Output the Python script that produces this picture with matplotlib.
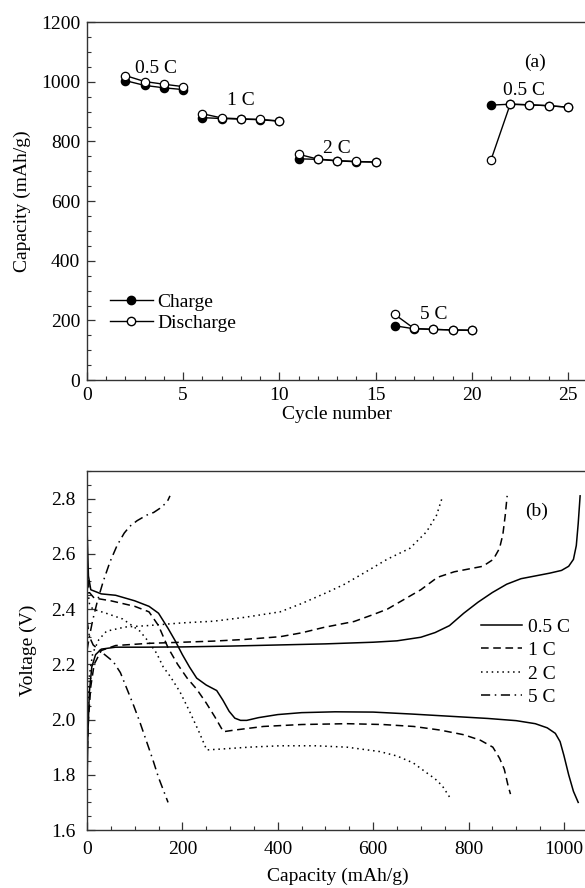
import matplotlib
matplotlib.use("Agg")
import matplotlib.pyplot as plt
from matplotlib.lines import Line2D

plt.rcParams["font.family"] = ["Liberation Serif", "DejaVu Serif"]
plt.rcParams["font.size"] = 14

# ---- panel (a): rate capability ----
cycle_groups = [[2, 3, 4, 5], [6, 7, 8, 9, 10], [11, 12, 13, 14, 15],
                [16, 17, 18, 19, 20], [21, 22, 23, 24, 25]]
charge_groups = [[1004, 988, 980, 974], [880, 877, 875, 873, 868],
                 [742, 740, 735, 732, 731], [182, 172, 170, 168, 167],
                 [922, 925, 923, 920, 915]]
discharge_groups = [[1021, 1001, 992, 984], [893, 879, 876, 874, 869],
                    [757, 741, 736, 733, 731], [220, 173, 170, 168, 167],
                    [738, 925, 923, 920, 915]]
rate_labels_a = ["0.5 C", "1 C", "2 C", "5 C", "0.5 C"]
rate_label_pos_a = [(3.6, 1046), (8.0, 938), (13.0, 778), (18.0, 220), (22.7, 970)]

# ---- panel (b): voltage profiles ----
rates_b = ["0.5 C", "1 C", "2 C", "5 C"]
styles_b = ["-", (0, (5, 3)), (0, (1, 2.5)), (0, (6, 3, 1, 3))]

dis_cap = [
    [0, 3, 8, 30, 60, 100, 130, 150, 170, 185, 200, 215, 230, 250, 272, 285, 298, 310, 322,
     335, 360, 400, 450, 520, 600, 680, 760, 840, 900, 940, 965, 982, 992, 1000, 1010, 1020, 1030],
    [0, 5, 15, 50, 100, 130, 150, 170, 190, 210, 230, 250, 268, 286, 310, 370, 450, 545, 620,
     685, 740, 790, 825, 851, 865, 875, 883, 888],
    [0, 5, 12, 40, 75, 111, 130, 146, 160, 175, 195, 215, 235, 251, 280, 340, 405, 480, 545,
     614, 650, 684, 710, 730, 745, 760],
    [0, 5, 13, 30, 55, 70, 84, 98, 111, 125, 138, 150, 160, 170],
]
dis_volt = [
    [2.70, 2.52, 2.47, 2.455, 2.45, 2.43, 2.41, 2.385, 2.33, 2.285, 2.235, 2.19, 2.15, 2.125,
     2.105, 2.07, 2.03, 2.005, 1.997, 1.997, 2.007, 2.018, 2.025, 2.028, 2.027, 2.02, 2.012,
     2.004, 1.996, 1.985, 1.97, 1.95, 1.92, 1.87, 1.80, 1.74, 1.70],
    [2.55, 2.46, 2.44, 2.43, 2.41, 2.39, 2.34, 2.26, 2.20, 2.15, 2.11, 2.06, 2.01, 1.956, 1.962,
     1.975, 1.982, 1.985, 1.982, 1.975, 1.962, 1.945, 1.925, 1.90, 1.86, 1.82, 1.76, 1.73],
    [2.50, 2.42, 2.40, 2.385, 2.364, 2.32, 2.28, 2.24, 2.19, 2.155, 2.10, 2.03, 1.955, 1.89,
     1.893, 1.90, 1.905, 1.905, 1.90, 1.884, 1.868, 1.843, 1.81, 1.785, 1.76, 1.72],
    [2.36, 2.30, 2.27, 2.245, 2.21, 2.17, 2.11, 2.05, 1.99, 1.92, 1.855, 1.79, 1.745, 1.70],
]
chg_cap = [
    [0, 2, 5, 10, 18, 30, 60, 120, 200, 300, 400, 500, 600, 650, 700, 730, 760, 790, 820, 850,
     880, 910, 940, 970, 995, 1010, 1020, 1026, 1030, 1034],
    [0, 3, 8, 15, 30, 60, 130, 200, 265, 330, 405, 450, 495, 530, 560, 600, 630, 665, 700, 735,
     770, 800, 830, 852, 865, 872, 877, 881],
    [0, 5, 12, 25, 41, 80, 126, 200, 265, 330, 405, 450, 503, 540, 580, 629, 677, 712, 733, 746],
    [0, 5, 12, 22, 34, 48, 63, 78, 90, 105, 125, 140, 153, 163, 170, 174],
]
chg_volt = [
    [1.75, 1.95, 2.10, 2.19, 2.235, 2.255, 2.262, 2.262, 2.263, 2.266, 2.27, 2.274, 2.28, 2.285,
     2.298, 2.315, 2.34, 2.385, 2.425, 2.46, 2.49, 2.51, 2.52, 2.53, 2.54, 2.555, 2.58, 2.63,
     2.71, 2.81],
    [1.85, 2.0, 2.12, 2.20, 2.25, 2.268, 2.276, 2.28, 2.284, 2.29, 2.30, 2.314, 2.333, 2.345,
     2.355, 2.38, 2.40, 2.435, 2.47, 2.515, 2.535, 2.545, 2.555, 2.58, 2.62, 2.67, 2.74, 2.81],
    [2.0, 2.16, 2.24, 2.29, 2.32, 2.335, 2.34, 2.35, 2.356, 2.37, 2.39, 2.42, 2.46, 2.49, 2.53,
     2.58, 2.62, 2.68, 2.74, 2.81],
    [2.25, 2.30, 2.36, 2.43, 2.50, 2.57, 2.63, 2.675, 2.70, 2.72, 2.74, 2.75, 2.765, 2.78,
     2.795, 2.81],
]

spine_color = "#333333"


def style_axes(ax, pad=6):
    for side in ["left", "bottom", "top", "right"]:
        ax.spines[side].set_color(spine_color)
        ax.spines[side].set_linewidth(1.0)
    ax.tick_params(which="both", direction="in", top=False, right=False, color=spine_color)
    ax.tick_params(which="major", length=6, width=0.9, pad=pad)
    ax.tick_params(which="minor", length=3, width=0.8)


fig = plt.figure(figsize=(5.85, 8.88), dpi=100)

# panel (a)
ax1 = fig.add_axes([0.1487, 0.572, 0.855, 0.403])
for cyc, chg in zip(cycle_groups, charge_groups):
    ax1.plot(cyc, chg, color="black", lw=1.0, marker="o", ms=6, mfc="black", mec="black", mew=0.9)
for cyc, dis in zip(cycle_groups, discharge_groups):
    ax1.plot(cyc, dis, color="black", lw=1.0, marker="o", ms=6, mfc="white", mec="black", mew=0.9)
for lab, (tx, ty) in zip(rate_labels_a, rate_label_pos_a):
    ax1.text(tx, ty, lab, ha="center", va="center", fontsize=14)
ax1.text(23.3, 1067, "(a)", ha="center", va="center", fontsize=14)
ax1.set_xlim(0, 26)
ax1.set_ylim(0, 1200)
ax1.set_xticks([0, 5, 10, 15, 20, 25])
ax1.set_xticks(range(0, 26), minor=True)
ax1.set_yticks(range(0, 1201, 200))
ax1.set_yticks(range(0, 1201, 50), minor=True)
ax1.set_xlabel("Cycle number", va="center")
ax1.xaxis.set_label_coords(0.5, -0.095)
ax1.set_ylabel("Capacity (mAh/g)", va="center")
ax1.yaxis.set_label_coords(-0.13, 0.5)
style_axes(ax1, pad=5)
h_a = [Line2D([], [], color="black", lw=1.0, marker="o", ms=6, mfc="black", mec="black"),
       Line2D([], [], color="black", lw=1.0, marker="o", ms=6, mfc="white", mec="black")]
ax1.legend(h_a, ["Charge", "Discharge"], loc="upper left", bbox_to_anchor=(0.03, 0.265),
           frameon=False, handlelength=2.2, handletextpad=0.25, labelspacing=0.2,
           borderaxespad=0, fontsize=14)

# panel (b)
ax2 = fig.add_axes([0.1487, 0.0653, 0.856, 0.4043])
handles_b = []
for i, rate in enumerate(rates_b):
    ln, = ax2.plot(dis_cap[i], dis_volt[i], color="black", lw=1.1, ls=styles_b[i])
    ax2.plot(chg_cap[i], chg_volt[i], color="black", lw=1.1, ls=styles_b[i])
    handles_b.append(ln)
ax2.text(943, 2.755, "(b)", ha="center", va="center", fontsize=14)
ax2.set_xlim(0, 1050)
ax2.set_ylim(1.6, 2.9)
ax2.set_xticks(range(0, 1001, 200))
ax2.set_xticks(range(0, 1051, 50), minor=True)
ax2.set_yticks([1.6, 1.8, 2.0, 2.2, 2.4, 2.6, 2.8])
ax2.set_yticks([1.6 + 0.05 * k for k in range(27)], minor=True)
ax2.set_xlabel("Capacity (mAh/g)", va="center")
ax2.xaxis.set_label_coords(0.5, -0.128)
ax2.set_ylabel("Voltage (V)", va="center")
ax2.yaxis.set_label_coords(-0.118, 0.5)
style_axes(ax2, pad=8)
ax2.legend(handles_b, rates_b, loc="upper left", bbox_to_anchor=(0.772, 0.612),
           frameon=False, handlelength=2.1, handletextpad=0.3, labelspacing=0.3,
           borderaxespad=0, fontsize=14)

fig.savefig("out.png", dpi=100)
